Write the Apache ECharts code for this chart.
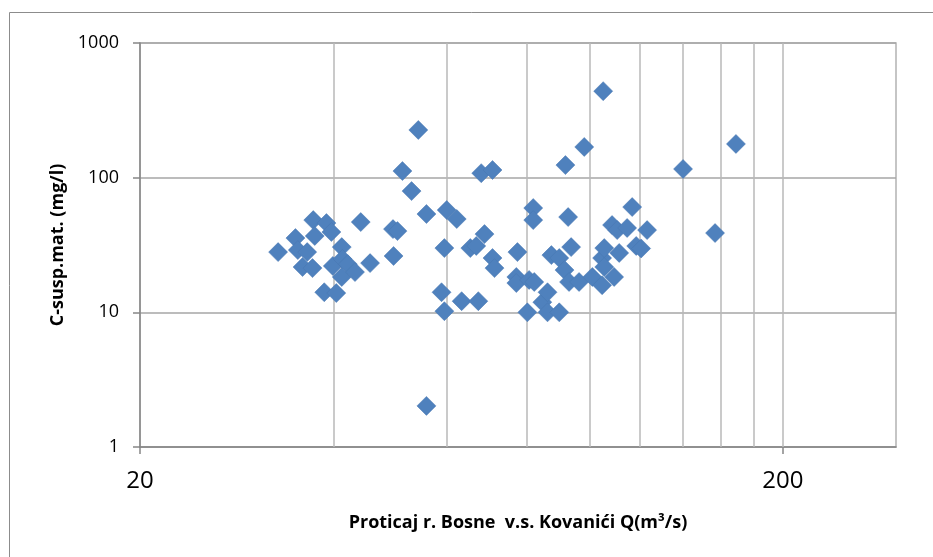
<!DOCTYPE html>
<html>
<head>
<meta charset="utf-8">
<script src="https://cdn.jsdelivr.net/npm/echarts@6/dist/echarts.min.js"></script>
<style>
  html, body { margin: 0; padding: 0; background: #ffffff; }
  #chart { width: 933px; height: 557px; }
</style>
</head>
<body>
<div id="chart"></div>
<script>
// Discharge of the Bosna river at Kovanići, Q (m³/s)
const flow = [
  32.8, 34.9, 35.2, 36.4, 35.8, 37.1, 37.2, 37.4, 39.0, 39.7,
  38.7, 40.4, 39.9, 41.2, 41.3, 41.2, 42.1, 43.2, 44.1, 45.6,
  49.5, 50.3, 49.6, 51.2, 52.9, 54.2, 55.8, 55.8, 58.9, 59.5,
  60.0, 59.5, 62.2, 63.3, 65.3, 66.7, 67.2, 67.9, 68.7, 70.7,
  70.7, 71.2, 77.0, 77.0, 77.3, 80.1, 80.6, 82.1, 81.8, 81.8,
  84.5, 86.1, 86.1, 87.3, 89.8, 89.8, 91.5, 91.8, 92.7, 93.0,
  93.7, 96.4, 98.2, 101.1, 104.7, 104.7, 105.5, 105.5, 105.1, 108.5,
  109.3, 110.5, 111.3, 114.5, 116.6, 118.3, 123.0, 139.9, 156.9, 169.1,
  120.4
];

// Suspended matter concentration (mg/l), paired with flow by index
const conc = [
  28.0, 35.6, 29.0, 28.0, 21.7, 21.3, 48.4, 36.9, 46.0, 39.5,
  14.1, 13.9, 22.1, 30.5, 24.9, 18.3, 22.8, 19.9, 46.8, 23.2,
  41.5, 40.1, 26.2, 112, 79.5, 226, 53.7, 2.02, 14.1, 10.2,
  57.5, 30.0, 49.3, 12.1, 30.0, 31.1, 12.1, 108, 38.1, 114,
  25.3, 21.3, 18.3, 16.5, 28.0, 10.0, 17.4, 16.8, 59.5, 48.4,
  11.9, 14.1, 10.0, 26.6, 25.3, 10.0, 20.6, 124, 51.0, 16.8,
  30.5, 16.8, 169, 18.3, 15.9, 25.3, 30.0, 21.7, 439, 44.5,
  18.3, 40.8, 27.6, 42.3, 60.5, 31.1, 40.8, 116, 38.8, 178,
  29.8
];

// Axis labels and vertical grid positions
const xTickLabels = [20, 200];
const xGridValues = [40, 60, 80, 100, 120, 140, 160, 180, 200];
const yTickLabels = [1, 10, 100, 1000];

const chart = echarts.init(document.getElementById('chart'), null, { renderer: 'canvas' });
const points = flow.map((q, i) => [q, conc[i]]);

const axisGray = '#868686';
const fontFamily = '"Open Sans", "Liberation Sans", sans-serif';
const plainNumber = v => String(Math.round(v));

chart.setOption({
  animation: false,
  backgroundColor: '#ffffff',
  graphic: [{
    type: 'rect',
    silent: true,
    z: -10,
    shape: { x: 9.5, y: 12.5, width: 1000, height: 1000 },
    style: { fill: 'none', stroke: '#8c8c8c', lineWidth: 1 }
  }],
  grid: {
    left: 140, top: 43, right: 37, bottom: 110,
    show: true, borderColor: '#b3b3b3', borderWidth: 1.5
  },
  xAxis: {
    type: 'log', logBase: 10, min: 20, max: 300,
    name: 'Proticaj r. Bosne  v.s. Kovanići Q(m³/s)',
    nameLocation: 'middle', nameGap: 67,
    nameTextStyle: { fontFamily, fontWeight: 'bold', fontSize: 18, color: '#000' },
    axisLine: { show: true, lineStyle: { color: axisGray, width: 1.5 } },
    axisTick: { show: true, inside: false, length: 7, customValues: xTickLabels, lineStyle: { color: axisGray, width: 1.5 } },
    axisLabel: { customValues: xTickLabels, formatter: plainNumber, margin: 22, fontFamily, fontSize: 24, color: '#000' },
    splitLine: { show: false }
  },
  yAxis: {
    type: 'log', logBase: 10, min: 1, max: 1000,
    name: 'C-susp.mat. (mg/l)',
    nameLocation: 'middle', nameGap: 68, nameRotate: 90,
    nameTextStyle: { fontFamily, fontWeight: 'bold', fontSize: 18, color: '#000' },
    axisLine: { show: true, lineStyle: { color: axisGray, width: 1.5 } },
    axisTick: { show: true, inside: false, length: 7, customValues: yTickLabels, lineStyle: { color: axisGray, width: 1.5 } },
    axisLabel: { customValues: yTickLabels, formatter: plainNumber, margin: 21, fontFamily, fontSize: 18, color: '#000' },
    splitLine: { show: true, lineStyle: { color: '#a6a6a6', width: 1.5 } }
  },
  series: [{
    type: 'scatter',
    data: points,
    symbol: 'diamond',
    symbolSize: 19,
    z: 3,
    itemStyle: { color: '#4f81bd', borderColor: '#4877b0', borderWidth: 0.5, opacity: 1 },
    markLine: {
      silent: true,
      symbol: 'none',
      z: 1,
      animation: false,
      label: { show: false },
      emphasis: { disabled: true },
      lineStyle: { color: '#b8b8b8', width: 1.5, type: 'solid' },
      data: xGridValues.map(v => ({ xAxis: v }))
    }
  }]
});
</script>
</body>
</html>
